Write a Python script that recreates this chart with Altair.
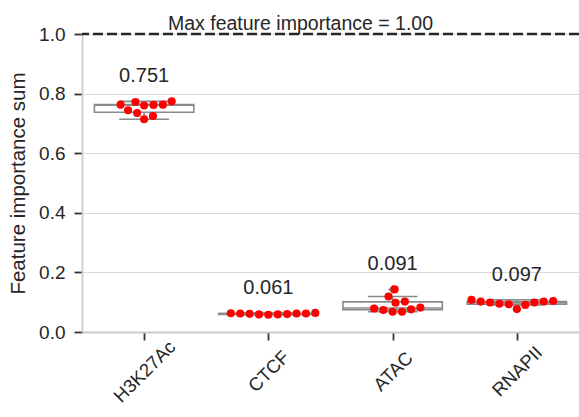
import numpy as np
import pandas as pd
import altair as alt

# Feature groups and the per-run importance sums (10 runs each)
categories = ["H3K27Ac", "CTCF", "ATAC", "RNAPII"]
h3k27ac = [0.772, 0.762, 0.760, 0.774, 0.763, 0.763, 0.744, 0.735, 0.725, 0.714]
ctcf = [0.064, 0.063, 0.062, 0.061, 0.059, 0.058, 0.059, 0.060, 0.062, 0.062]
atac = [0.143, 0.119, 0.102, 0.098, 0.082, 0.076, 0.068, 0.068, 0.074, 0.079]
rnapii = [0.104, 0.102, 0.099, 0.091, 0.077, 0.093, 0.095, 0.099, 0.102, 0.108]
series = [h3k27ac, ctcf, atac, rnapii]
max_importance = 1.0
y_ticks = [0.0, 0.2, 0.4, 0.6, 0.8, 1.0]

# Canvas geometry
PAD_L, PAD_T, PAD_R, PAD_B = 82, 34, 0, 85
W, H = 579 - PAD_L - PAD_R, 417 - PAD_T - PAD_B
X_DOMAIN = [-0.5, len(categories) - 0.5]
PX_PER_X = W / (X_DOMAIN[1] - X_DOMAIN[0])
PX_PER_Y = H / 1.0
DOT_D = 9.4          # swarm spacing in pixels
BOX_W = 0.8          # box width in category units

def beeswarm(values):
    """Horizontal offsets (category units) so that dots do not overlap."""
    vals = np.asarray(values, dtype=float)
    order = np.argsort(vals, kind="stable")
    placed = []
    offsets = np.zeros(len(vals))
    for i in order:
        y = vals[i] * PX_PER_Y
        cands = [0.0]
        for px, py in placed:
            dy = y - py
            if abs(dy) < DOT_D:
                dx = np.sqrt(DOT_D ** 2 - dy ** 2)
                cands += [px + dx, px - dx]
        cands.sort(key=abs)
        chosen = 0.0
        for c in cands:
            if all((c - px) ** 2 + (y - py) ** 2 >= DOT_D ** 2 - 1e-6 for px, py in placed):
                chosen = c
                break
        placed.append((chosen, y))
        offsets[i] = chosen
    return offsets / PX_PER_X

# Long table of the individual runs
rows = []
for k, (cat, vals) in enumerate(zip(categories, series)):
    offs = beeswarm(vals)
    for v, o in zip(vals, offs):
        rows.append({"feature": cat, "pos": k, "xs": k + o, "value": v})
points = pd.DataFrame(rows)

# Box-plot summary (1.5 IQR whiskers)
stats, fliers = [], []
for k, (cat, vals) in enumerate(zip(categories, series)):
    v = np.asarray(vals)
    q1, med, q3 = np.percentile(v, [25, 50, 75])
    iqr = q3 - q1
    inside = v[(v >= q1 - 1.5 * iqr) & (v <= q3 + 1.5 * iqr)]
    stats.append({"pos": k, "q1": q1, "med": med, "q3": q3,
                  "lo": inside.min(), "hi": inside.max()})
    for x in v[(v < q1 - 1.5 * iqr) | (v > q3 + 1.5 * iqr)]:
        fliers.append({"pos": k, "value": x})
stats = pd.DataFrame(stats)
fliers = pd.DataFrame(fliers)

FONT = "Liberation Sans"
TXT = "#262626"
BOXC = "#8a8a8a"

label_expr = "[" + ",".join(f"'{c}'" for c in categories) + "][datum.value]"

x_scale = alt.Scale(domain=X_DOMAIN, nice=False, zero=False)
y_scale = alt.Scale(domain=[0, 1], nice=False)

# rotated category names, centred under their ticks
x_axis = alt.Axis(values=list(range(len(categories))), labelExpr=label_expr,
                  title=None, grid=False, labelAngle=-45, labelAlign="center",
                  labelBaseline="middle", labelPadding=31, labelFontSize=18.5)
y_axis = alt.Axis(values=y_ticks, format=".1f", title="Feature importance sum",
                  grid=True)

base_stats = alt.Chart(stats).transform_calculate(
    left=f"datum.pos - {BOX_W / 2}", right=f"datum.pos + {BOX_W / 2}",
    capl=f"datum.pos - {BOX_W / 4}", capr=f"datum.pos + {BOX_W / 4}")

box = base_stats.mark_rect(fill="white", stroke=BOXC, strokeWidth=1.6).encode(
    x=alt.X("left:Q", scale=x_scale, axis=x_axis),
    x2="right:Q",
    y=alt.Y("q1:Q", scale=y_scale, axis=y_axis),
    y2="q3:Q")
whisk_lo = base_stats.mark_rule(color=BOXC, strokeWidth=1.6).encode(
    x="pos:Q", y="lo:Q", y2="q1:Q")
whisk_hi = base_stats.mark_rule(color=BOXC, strokeWidth=1.6).encode(
    x="pos:Q", y="q3:Q", y2="hi:Q")
cap_lo = base_stats.mark_rule(color=BOXC, strokeWidth=1.6).encode(
    x="capl:Q", x2="capr:Q", y="lo:Q")
cap_hi = base_stats.mark_rule(color=BOXC, strokeWidth=1.6).encode(
    x="capl:Q", x2="capr:Q", y="hi:Q")
median = base_stats.mark_rule(color=BOXC, strokeWidth=1.6).encode(
    x="left:Q", x2="right:Q", y="med:Q")

flier_marks = alt.Chart(fliers).mark_point(
    shape="diamond", filled=True, color=BOXC, size=80, opacity=1).encode(
    x="pos:Q", y="value:Q")

dots = alt.Chart(points).mark_circle(color="#ff0000", size=66, opacity=1).encode(
    x="xs:Q", y="value:Q")

labels = alt.Chart(points).transform_aggregate(
    mean="mean(value)", top="max(value)", groupby=["pos"]
).mark_text(font=FONT, fontSize=20, color=TXT, dy=-25, baseline="middle").encode(
    x="pos:Q", y="top:Q", text=alt.Text("mean:Q", format=".3f"))

ref = alt.Chart(pd.DataFrame({"y": [max_importance]})).mark_rule(
    color=TXT, strokeWidth=2.3, strokeDash=[10, 4]).encode(y="y:Q")

chart = alt.layer(box, whisk_lo, whisk_hi, cap_lo, cap_hi, median,
                  flier_marks, dots, labels, ref).properties(
    width=W, height=H,
    background="white",
    title=alt.TitleParams(f"Max feature importance = {max_importance:.2f}",
                          font=FONT, fontSize=19.5, fontWeight="normal",
                          color=TXT, offset=-9, anchor="middle", dx=-30),
    padding={"left": PAD_L, "top": PAD_T, "right": PAD_R, "bottom": PAD_B},
    autosize=alt.AutoSizeParams(type="none"),
).configure_view(stroke=None).configure_axis(
    labelFont=FONT, labelFontSize=19, labelColor=TXT,
    titleFont=FONT, titleFontSize=20.5, titleColor=TXT, titleFontWeight="normal",
    domainColor="#cccccc", domainWidth=1.8,
    tickColor="#333333", tickWidth=1.8, tickSize=8,
    gridColor="#d9d9d9", gridWidth=1, labelPadding=9, titlePadding=10,
)

chart.save("out.html", embed_options={"renderer": "svg", "actions": False})
